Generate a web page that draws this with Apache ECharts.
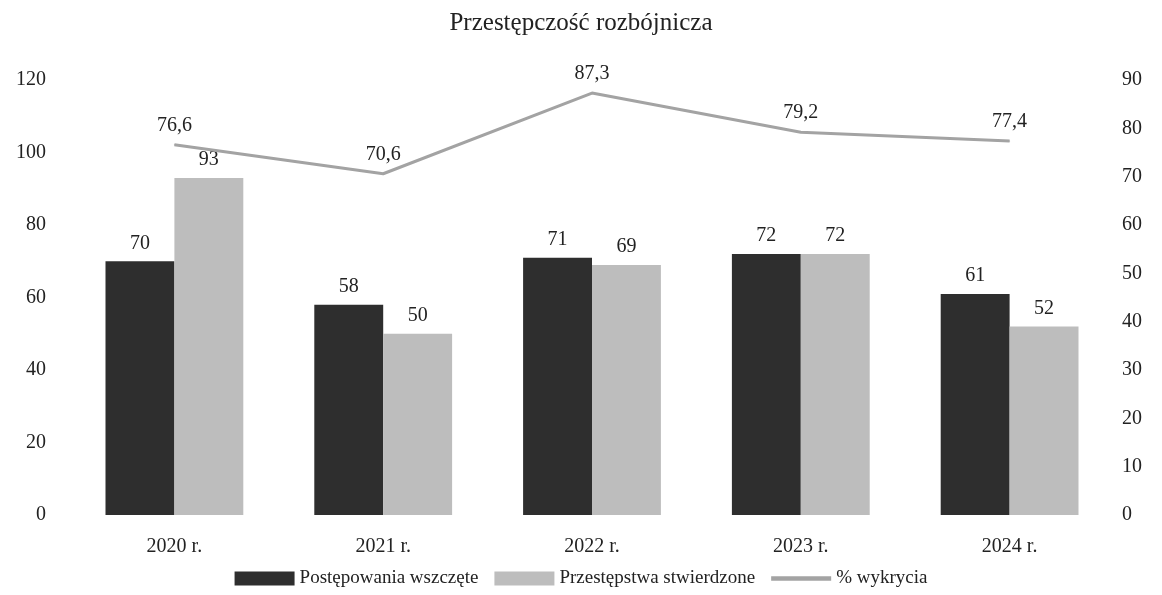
<!DOCTYPE html>
<html>
<head>
<meta charset="utf-8">
<script src="https://cdn.jsdelivr.net/npm/echarts@6/dist/echarts.min.js"></script>
<style>
  html, body { margin: 0; padding: 0; background: #fff; }
  #chart { width: 1162px; height: 595px; }
</style>
</head>
<body>
<div id="chart"></div>
<script>
// lata
const years = ['2020 r.', '2021 r.', '2022 r.', '2023 r.', '2024 r.'];
// postępowania wszczęte
const initiated = [70, 58, 71, 72, 61];
// przestępstwa stwierdzone
const confirmed = [93, 50, 69, 72, 52];
// % wykrycia (prawa oś)
const detection = [76.6, 70.6, 87.3, 79.2, 77.4];
const leftTicks = [0, 120, 20];
const rightTicks = [0, 90, 10];

const font = '"Liberation Serif", "DejaVu Serif", serif';
const fmtComma = (p) => String(p.value).replace('.', ',');

const chart = echarts.init(document.getElementById('chart'));
chart.setOption({
  animation: false,
  textStyle: { fontFamily: font },
  title: {
    text: 'Przestępczość rozbójnicza',
    left: 'center',
    top: 6,
    textStyle: { fontFamily: font, fontSize: 25, fontWeight: 'normal', color: '#222' },
  },
  legend: {
    bottom: 2,
    left: 'center',
    itemWidth: 60,
    itemHeight: 14,
    itemGap: 16,
    textStyle: { fontFamily: font, fontSize: 19, color: '#222' },
    data: [
      { name: 'Postępowania wszczęte', icon: 'rect' },
      { name: 'Przestępstwa stwierdzone', icon: 'rect' },
      { name: '% wykrycia', icon: 'path://M0,0 L40,0 L40,3 L0,3 Z', itemStyle: { color: '#a3a3a3' } },
    ],
  },
  grid: { left: 70, right: 48, top: 80, bottom: 80 },
  xAxis: {
    type: 'category',
    data: years,
    axisLine: { show: false },
    axisTick: { show: false },
    axisLabel: { fontFamily: font, fontSize: 20, color: '#222', margin: 22 },
  },
  yAxis: [
    {
      type: 'value',
      min: leftTicks[0],
      max: leftTicks[1],
      interval: leftTicks[2],
      splitLine: { show: false },
      axisLine: { show: false },
      axisTick: { show: false },
      axisLabel: { fontFamily: font, fontSize: 20, color: '#222', margin: 24 },
    },
    {
      type: 'value',
      min: rightTicks[0],
      max: rightTicks[1],
      interval: rightTicks[2],
      splitLine: { show: false },
      axisLine: { show: false },
      axisTick: { show: false },
      axisLabel: { fontFamily: font, fontSize: 20, color: '#222', margin: 8 },
    },
  ],
  series: [
    {
      name: 'Postępowania wszczęte',
      type: 'bar',
      data: initiated,
      barGap: '0%',
      barCategoryGap: '34%',
      itemStyle: { color: '#2e2e2e' },
      label: { show: true, position: 'top', distance: 8, fontFamily: font, fontSize: 20, color: '#222' },
    },
    {
      name: 'Przestępstwa stwierdzone',
      type: 'bar',
      data: confirmed,
      itemStyle: { color: '#bdbdbd' },
      label: { show: true, position: 'top', distance: 8, fontFamily: font, fontSize: 20, color: '#222' },
    },
    {
      name: '% wykrycia',
      type: 'line',
      yAxisIndex: 1,
      data: detection,
      symbol: 'circle',
      symbolSize: 1,
      lineStyle: { color: '#a3a3a3', width: 3 },
      itemStyle: { color: '#a3a3a3' },
      label: { show: true, position: 'top', distance: 9, formatter: fmtComma, fontFamily: font, fontSize: 20, color: '#222' },
    },
  ],
});
</script>
</body>
</html>
